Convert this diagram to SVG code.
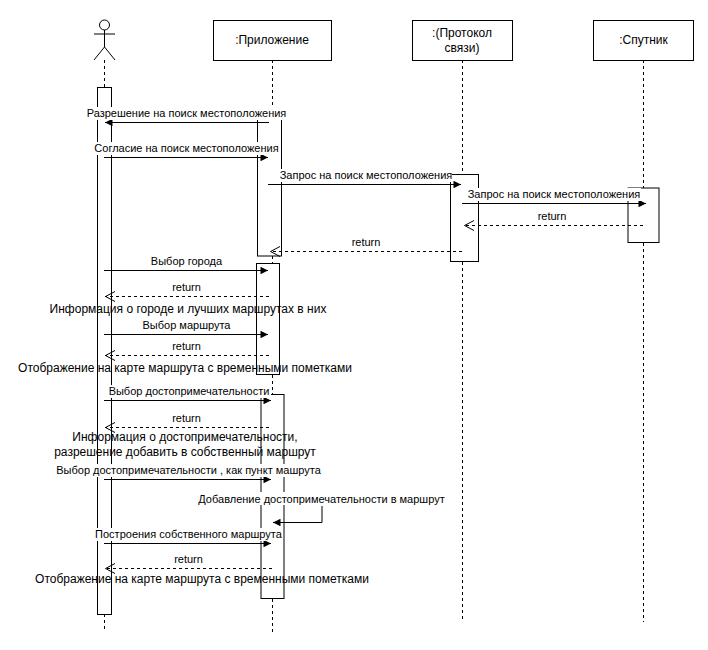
<svg xmlns="http://www.w3.org/2000/svg" width="708" height="650" viewBox="0 0 708 650">
<style>
.box{fill:#fff;stroke:#000;stroke-width:1}
.bar{fill:#fff;stroke:#000;stroke-width:1}
.life{fill:none;stroke:#000;stroke-width:1;stroke-dasharray:3 3}
.msg{fill:none;stroke:#000;stroke-width:1}
.ret{fill:none;stroke:#000;stroke-width:1;stroke-dasharray:3 3}
text{font-family:"Liberation Sans",Arial,sans-serif;font-size:11px;fill:#000;text-anchor:middle}
.t12{font-size:12px}
.bg{fill:#fff;stroke:none}
</style>
<defs>
<marker id="solid" viewBox="0 0 10 10" refX="10" refY="5" markerWidth="8" markerHeight="7.500" markerUnits="userSpaceOnUse" orient="auto"><path d="M0 0L10 5L0 10Z" fill="#000"/></marker>
<marker id="open" viewBox="0 0 10 11" refX="10" refY="5.500" markerWidth="10" markerHeight="11" markerUnits="userSpaceOnUse" orient="auto"><path d="M0 0.500L9.500 5.500L0 10.500" fill="none" stroke="#000"/></marker>
</defs>
<rect width="708" height="650" fill="#fff"/>
<g id="lifelines">
<path class="life" d="M104.5 60V87M104.5 614V632"/>
<path class="life" d="M272.5 60V110M272.5 256V263M272.5 375V394M272.5 599V633"/>
<path class="life" d="M462.5 60V174M462.5 262V622"/>
<path class="life" d="M643.5 60V188M643.5 243V622"/>
</g>
<g id="actor">
<circle cx="104.500" cy="25" r="5" fill="#fff" stroke="#000"/>
<path d="M104.500 30V47M94 34H115M94 60L104.500 47L115 60" fill="none" stroke="#000"/>
<rect class="bar" x="97.500" y="87.500" width="14" height="527"/>
</g>
<g id="app">
<rect class="box" x="213.500" y="20.500" width="118" height="40"/>
<text class="t12" x="272" y="44">:Приложение</text>
<rect class="bar" x="257.500" y="108" width="24" height="148"/>
<rect class="bar" x="256.500" y="263.500" width="23" height="111"/>
<rect class="bar" x="261" y="394.500" width="23" height="204"/>
</g>
<g id="protocol">
<rect class="box" x="412.500" y="20.500" width="100" height="40"/>
<text class="t12" x="462" y="37">:(Протокол</text>
<text class="t12" x="462" y="52">связи)</text>
<rect class="bar" x="450.500" y="174.500" width="28" height="87"/>
</g>
<g id="satellite">
<rect class="box" x="593.500" y="20.500" width="100" height="40"/>
<text class="t12" x="643.500" y="44">:Спутник</text>
<rect class="bar" x="628" y="188" width="31" height="54.500"/>
</g>
<g id="connectors">
<path class="msg" d="M269 122.500H105" marker-end="url(#solid)"/>
<path class="msg" d="M104 157.500H268" marker-end="url(#solid)"/>
<path class="msg" d="M268 184.500H461" marker-end="url(#solid)"/>
<path class="msg" d="M462 203.500H646" marker-end="url(#solid)"/>
<path class="ret" d="M643 225.500H464" marker-end="url(#open)"/>
<path class="ret" d="M462 251.500H270" marker-end="url(#open)"/>
<path class="msg" d="M104 270.500H268" marker-end="url(#solid)"/>
<path class="ret" d="M269 296.500H105" marker-end="url(#open)"/>
<path class="msg" d="M104 334.500H268" marker-end="url(#solid)"/>
<path class="ret" d="M269 355.500H105" marker-end="url(#open)"/>
<path class="msg" d="M104 400.500H271" marker-end="url(#solid)"/>
<path class="ret" d="M269 427.500H105" marker-end="url(#open)"/>
<path class="msg" d="M104 479.500H271" marker-end="url(#solid)"/>
<path class="msg" d="M322 506V522.500H273" marker-end="url(#solid)"/>
<path class="msg" d="M104 543.500H271" marker-end="url(#solid)"/>
<path class="ret" d="M272 568.500H105" marker-end="url(#open)"/>
</g>
<g id="labels">
<rect class="bg" x="87" y="107" width="199" height="13"/>
<text x="186.500" y="117">Разрешение на поиск местоположения</text>
<rect class="bg" x="94" y="142" width="185" height="13"/>
<text x="186.500" y="152">Согласие на поиск местоположения</text>
<rect class="bg" x="280" y="169" width="172" height="13"/>
<text x="366" y="179">Запрос на поиск местоположения</text>
<rect class="bg" x="468" y="188" width="173" height="13"/>
<text x="554" y="198">Запрос на поиск местоположения</text>
<text x="552" y="220">return</text>
<text x="366" y="246">return</text>
<text x="186.500" y="265">Выбор города</text>
<text x="186.500" y="291">return</text>
<text class="t12" x="188" y="313">Информация о городе и лучших маршрутах в них</text>
<text x="186.500" y="329">Выбор маршрута</text>
<text x="186.500" y="350">return</text>
<text class="t12" x="185" y="372">Отображение на карте маршрута с временными пометками</text>
<rect class="bg" x="109" y="385" width="162" height="13"/>
<text x="189" y="395">Выбор достопримечательности</text>
<text x="186.500" y="422">return</text>
<text class="t12" x="185" y="441">Информация о достопримечательности,</text>
<text class="t12" x="185" y="456">разрешение добавить в собственный маршрут</text>
<rect class="bg" x="56" y="464" width="265" height="13"/>
<text x="188.500" y="474">Выбор достопримечательности , как пункт машрута</text>
<rect class="bg" x="198" y="492" width="247" height="13"/>
<text x="321.500" y="503">Добавление достопримечательности в маршрут</text>
<rect class="bg" x="95" y="528" width="187" height="13"/>
<text x="188.500" y="538">Построения собственного маршрута</text>
<text x="188.500" y="563">return</text>
<text class="t12" x="202" y="583">Отображение на карте маршрута с временными пометками</text>
</g>
</svg>
